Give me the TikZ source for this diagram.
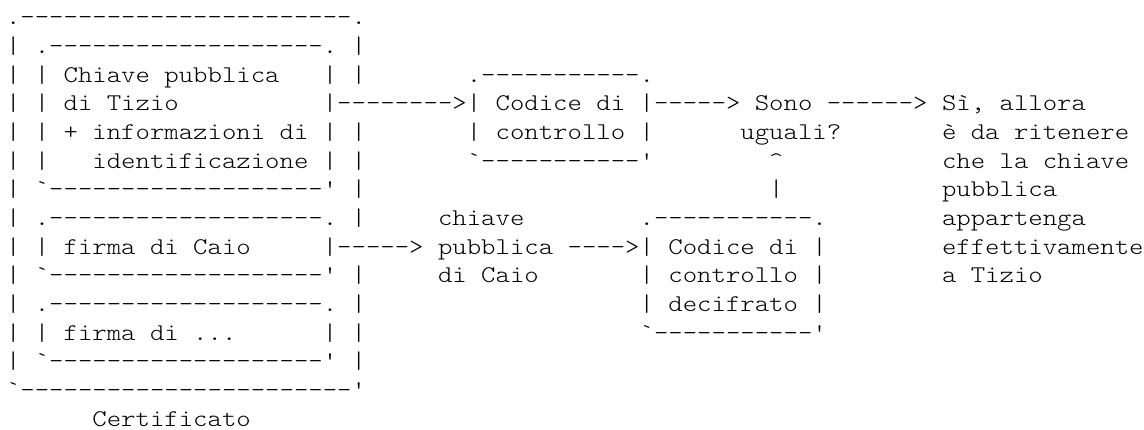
\documentclass[tikz,border=0pt]{standalone}
\usepackage{fontspec}
\setmonofont{Latin Modern Mono Light}[FakeStretch=1.1429]
\newcommand\Dten{----------}
\newcommand\Dxi{\Dten-}
\newcommand\Dxix{\Dten---------}
\newcommand\Dxxiii{\Dten\Dten---}
% place text at column #2, row #3
\newcommand\seg[4]{\node[txt] (#1) at ({6+#2*14.4},{-(24.7+(#3-1)*28.67)}) {#4};}
\begin{document}
\begin{tikzpicture}[x=1pt,y=1pt,
  txt/.style={anchor=base west, inner sep=0pt, outer sep=0pt,
    font=\ttfamily\fontsize{24}{28}\selectfont, text=black}]
\fill[white] (0,0) rectangle (1144,-430);
\useasboundingbox (0,0) rectangle (1144,-430);
% Certificato (left box)
\seg{c1}{0}{1}{.\Dxxiii.}
\seg{c2}{0}{2}{|~.\Dxix.~|}
\seg{c3}{0}{3}{|~|~Chiave~pubblica~~~|~|}
\seg{c4}{0}{4}{|~|~di~Tizio~~~~~~~~~~|}
\seg{c5}{0}{5}{|~|~+~informazioni~di~|~|}
\seg{c6}{0}{6}{|~|~~~identificazione~|~|}
\seg{c7}{0}{7}{|~`\Dxix'~|}
\seg{c8}{0}{8}{|~.\Dxix.~|}
\seg{c9}{0}{9}{|~|~firma~di~Caio~~~~~|}
\seg{c10}{0}{10}{|~`\Dxix'~|}
\seg{c11}{0}{11}{|~.\Dxix.~|}
\seg{c12}{0}{12}{|~|~firma~di~...~~~~~~|~|}
\seg{c13}{0}{13}{|~`\Dxix'~|}
\seg{c14}{0}{14}{`\Dxxiii'}
\seg{cert}{6}{15}{Certificato}
% upper path
\seg{a1}{23}{4}{-{}-{}-{}-{}-{}-{}-{}->}
\seg{k1}{32}{3}{.\Dxi.}
\seg{k2}{32}{4}{|~Codice~di~|}
\seg{k3}{32}{5}{|~controllo~|}
\seg{k4}{32}{6}{`\Dxi'}
\seg{a2}{45}{4}{----->}
\seg{sono}{52}{4}{Sono}
\seg{ugu}{51}{5}{uguali?}
\seg{a3}{57}{4}{------>}
% result text
\seg{r1}{65}{4}{Sì,~allora}
\seg{r2}{65}{5}{è~da~ritenere}
\seg{r3}{65}{6}{che~la~chiave}
\seg{r4}{65}{7}{pubblica}
\seg{r5}{65}{8}{appartenga}
\seg{r6}{65}{9}{effettivamente}
\seg{r7}{65}{10}{a~Tizio}
% lower path
\seg{a4}{23}{9}{----->}
\seg{ch1}{30}{8}{chiave}
\seg{ch2}{30}{9}{pubblica}
\seg{ch3}{30}{10}{di~Caio}
\seg{a5}{39}{9}{---->}
\seg{d1}{44}{8}{.\Dxi.}
\seg{d2}{44}{9}{|~Codice~di~|}
\seg{d3}{44}{10}{|~controllo~|}
\seg{d4}{44}{11}{|~decifrato~|}
\seg{d5}{44}{12}{`\Dxi'}
\seg{up1}{53}{6}{\textasciicircum}
\seg{up2}{53}{7}{|}
\end{tikzpicture}
\end{document}
